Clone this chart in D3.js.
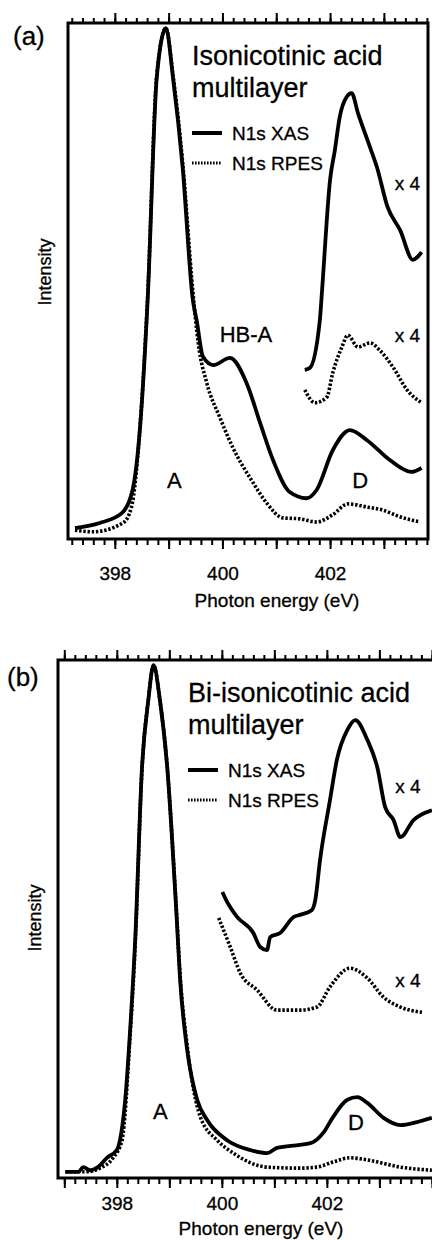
<!DOCTYPE html>
<html>
<head>
<meta charset="utf-8">
<script src="https://cdn.jsdelivr.net/npm/d3@7"></script>
<style>
  body { margin: 0; background: #fff; }
  svg { display: block; font-family: "Liberation Sans", Arial, sans-serif; }
  svg text { stroke: #000; stroke-width: 0.3px; }
</style>
</head>
<body>
<svg id="chart" width="432" height="1240"></svg>
<script>
// ---- data (energy in eV, intensity in % of panel height) ----
// panel (a): isonicotinic acid multilayer
const aXasEnergy = [397.26, 397.72, 398.13, 398.33, 398.46, 398.61, 398.78, 398.95, 399.08, 399.26, 399.45, 399.52, 399.64, 399.83, 400.14, 400.45, 400.70, 400.94, 401.25, 401.56, 401.75, 402.05, 402.37, 402.68, 403.11, 403.51, 403.70];
const aXasValue  = [2.1, 3.1, 5.0, 9.5, 20.5, 46.3, 89.5, 99.0, 89.5, 72.1, 46.3, 42.4, 35.3, 33.7, 35.1, 30.2, 22.5, 15.3, 9.1, 7.9, 9.5, 17.2, 21.1, 19.2, 15.3, 13.0, 13.8];
const aRpesEnergy = [397.26, 397.59, 398.15, 398.31, 398.46, 398.61, 398.78, 398.95, 399.08, 399.26, 399.45, 399.55, 399.71, 399.95, 400.19, 400.57, 400.82, 401.12, 401.44, 401.75, 402.05, 402.33, 402.68, 402.98, 403.30, 403.67];
const aRpesValue  = [1.7, 1.4, 3.1, 6.2, 20.5, 47.0, 90.0, 99.0, 90.0, 73.0, 48.0, 38.0, 30.2, 23.6, 17.8, 10.9, 7.0, 4.1, 3.9, 3.3, 4.7, 6.8, 6.2, 5.6, 4.3, 3.3];
const aXas4Energy = [401.53, 401.62, 401.81, 401.85, 402.00, 402.09, 402.18, 402.31, 402.40, 402.52, 402.74, 402.87, 403.07, 403.30, 403.54, 403.62, 403.70];
const aXas4Value  = [32.8, 33.1, 42.4, 48.0, 69.6, 75.4, 81.8, 85.7, 86.4, 82.5, 76.0, 72.1, 64.3, 59.9, 54.1, 54.6, 55.6];
const aRpes4Energy = [401.53, 401.72, 401.94, 402.05, 402.22, 402.33, 402.52, 402.74, 402.92, 403.17, 403.43, 403.70];
const aRpes4Value  = [28.9, 26.4, 27.5, 32.2, 37.2, 39.5, 37.2, 38.0, 36.6, 33.3, 28.9, 26.4];

// panel (b): bi-isonicotinic acid multilayer
const bXasEnergy = [397.02, 397.27, 397.36, 397.49, 397.64, 397.81, 398.00, 398.06, 398.16, 398.25, 398.35, 398.48, 398.60, 398.70, 398.82, 398.96, 399.13, 399.21, 399.34, 399.53, 399.72, 400.10, 400.54, 400.86, 401.05, 401.49, 401.71, 401.93, 402.12, 402.39, 402.58, 402.77, 403.08, 403.40, 403.72, 404.00];
const bXasValue  = [1.2, 1.2, 2.1, 1.5, 2.1, 3.9, 5.4, 7.3, 15.1, 28.0, 46.0, 79.3, 92.3, 99.0, 92.3, 79.3, 52.0, 37.6, 24.7, 15.1, 11.2, 7.3, 5.4, 4.8, 5.8, 6.4, 6.8, 8.7, 11.8, 15.1, 15.6, 14.5, 11.6, 10.2, 10.8, 11.6];
const bRpesEnergy = [397.02, 397.43, 397.68, 397.93, 398.10, 398.25, 398.35, 398.48, 398.60, 398.70, 398.82, 398.96, 399.13, 399.21, 399.34, 399.59, 399.91, 400.22, 400.86, 401.49, 401.81, 402.12, 402.44, 402.77, 403.40, 404.00];
const bRpesValue  = [1.2, 1.2, 1.9, 3.9, 7.3, 27.0, 45.0, 79.0, 92.3, 99.0, 92.3, 79.3, 52.5, 38.5, 25.5, 11.8, 7.3, 4.8, 2.1, 1.9, 2.1, 3.1, 3.9, 3.5, 2.1, 1.5];
const bXas4Energy = [400.01, 400.10, 400.29, 400.60, 400.73, 400.86, 400.92, 401.11, 401.37, 401.49, 401.71, 401.78, 401.87, 402.06, 402.19, 402.39, 402.54, 402.77, 402.96, 403.11, 403.27, 403.40, 403.65, 404.00];
const bXas4Value  = [55.2, 53.3, 50.4, 47.3, 44.6, 44.0, 46.5, 47.3, 50.4, 50.8, 51.7, 53.7, 61.4, 73.0, 80.7, 86.5, 88.4, 84.6, 79.3, 71.6, 69.1, 65.8, 69.1, 71.0];
const bRpes4Energy = [399.94, 400.16, 400.35, 400.67, 401.05, 401.49, 401.81, 402.06, 402.44, 402.77, 403.08, 403.40, 403.81];
const bRpes4Value  = [50.2, 44.6, 39.6, 36.3, 32.4, 32.4, 33.0, 36.9, 40.5, 38.6, 34.9, 33.0, 32.0];

const tickLabels = [398, 400, 402];
const legendLabels = ["N1s XAS", "N1s RPES"];

const zip = (xs, ys) => xs.map((x, i) => ({ e: x, v: ys[i] }));

const svg = d3.select("#chart");
const font = "'Liberation Sans', Arial, sans-serif";

const panels = [
  {
    tag: "(a)", tagX: 13, tagY: 45,
    title: ["Isonicotinic acid", "multilayer"],
    box: { left: 68, right: 428, top: 23, bottom: 539 },
    domain: [397.13, 403.82],
    lines: [
      { data: zip(aXasEnergy, aXasValue), dotted: false },
      { data: zip(aRpesEnergy, aRpesValue), dotted: true },
      { data: zip(aXas4Energy, aXas4Value), dotted: false },
      { data: zip(aRpes4Energy, aRpes4Value), dotted: true }
    ],
    notes: [
      { t: "HB-A", e: 399.95, v: 38.2 },
      { t: "A", e: 398.97, v: 9.9 },
      { t: "D", e: 402.41, v: 9.9 },
      { t: "x 4", e: 403.20, v: 67.6, small: true },
      { t: "x 4", e: 403.20, v: 38.2, small: true }
    ],
    titleX: 192, tickY: 41,
    xlabX: 277, xlabY: 607,
    ylabX: 51, ylabY: 272
  },
  {
    tag: "(b)", tagX: 7, tagY: 686,
    title: ["Bi-isonicotinic acid", "multilayer"],
    box: { left: 58, right: 434, top: 660, bottom: 1178 },
    domain: [396.88, 404.04],
    lines: [
      { data: zip(bXasEnergy, bXasValue), dotted: false },
      { data: zip(bRpesEnergy, bRpesValue), dotted: true },
      { data: zip(bXas4Energy, bXas4Value), dotted: false },
      { data: zip(bRpes4Energy, bRpes4Value), dotted: true }
    ],
    notes: [
      { t: "A", e: 398.69, v: 11.4 },
      { t: "D", e: 402.40, v: 9.3 },
      { t: "x 4", e: 403.30, v: 74.3, small: true },
      { t: "x 4", e: 403.30, v: 36.9, small: true }
    ],
    titleX: 188, tickY: 32,
    xlabX: 261, xlabY: 1235,
    ylabX: 41, ylabY: 918
  }
];

panels.forEach((p) => {
  const b = p.box;
  const x = d3.scaleLinear().domain(p.domain).range([b.left, b.right]);
  const y = d3.scaleLinear().domain([0, 100]).range([b.bottom, b.top]);

  // clip so lines stay inside the frame
  const clipId = "clip" + p.tag.replace(/\W/g, "");
  svg.append("clipPath").attr("id", clipId)
    .append("rect")
    .attr("x", b.left).attr("y", b.top - 4)
    .attr("width", b.right - b.left).attr("height", b.bottom - b.top + 4);

  // ticks: minor every 0.2 eV, major every 1 eV
  const minor = d3.range(Math.ceil(p.domain[0] * 5) / 5, p.domain[1], 0.2);
  const major = d3.range(Math.ceil(p.domain[0]), p.domain[1], 1);

  svg.append("g")
    .attr("transform", `translate(0,${b.bottom})`)
    .call(d3.axisBottom(x).tickValues(minor).tickSize(6).tickFormat(""))
    .call((g) => g.select(".domain").remove())
    .selectAll("line").attr("stroke", "#000").attr("stroke-width", 2);

  svg.append("g")
    .attr("transform", `translate(0,${b.bottom})`)
    .call(d3.axisBottom(x).tickValues(major).tickSize(10)
      .tickFormat((d) => (tickLabels.includes(d) ? d : "")))
    .call((g) => g.select(".domain").remove())
    .call((g) => g.selectAll("line").attr("stroke", "#000").attr("stroke-width", 2))
    .selectAll("text")
    .attr("y", 0)
    .attr("dy", 0)
    .attr("transform", `translate(0,${p.tickY})`)
    .style("font-family", font)
    .style("font-size", "19px")
    .attr("fill", "#000");

  svg.append("g")
    .attr("transform", `translate(0,${b.top})`)
    .call(d3.axisTop(x).tickValues(minor).tickSize(5).tickFormat(""))
    .call((g) => g.select(".domain").remove())
    .selectAll("line").attr("stroke", "#000").attr("stroke-width", 2);

  svg.append("g")
    .attr("transform", `translate(0,${b.top})`)
    .call(d3.axisTop(x).tickValues(major).tickSize(10).tickFormat(""))
    .call((g) => g.select(".domain").remove())
    .selectAll("line").attr("stroke", "#000").attr("stroke-width", 2);

  // frame
  svg.append("rect")
    .attr("x", b.left).attr("y", b.top)
    .attr("width", b.right - b.left).attr("height", b.bottom - b.top)
    .attr("fill", "none")
    .attr("stroke", "#000")
    .attr("stroke-width", 3);

  const line = d3.line()
    .x((d) => x(d.e))
    .y((d) => y(d.v))
    .curve(d3.curveMonotoneX);

  const plot = svg.append("g").attr("clip-path", `url(#${clipId})`);
  p.lines.forEach((l) => {
    plot.append("path")
      .datum(l.data)
      .attr("fill", "none")
      .attr("stroke", "#000")
      .attr("stroke-width", l.dotted ? 3.6 : 3.8)
      .attr("stroke-dasharray", l.dotted ? "2.4,1.8" : null)
      .attr("stroke-linejoin", "round")
      .attr("d", line);
  });

  // annotations
  p.notes.forEach((n) => {
    svg.append("text")
      .attr("x", x(n.e))
      .attr("y", y(n.v))
      .style("font-family", font)
      .style("font-size", n.small ? "19px" : "22px")
      .text(n.t);
  });

  // title
  p.title.forEach((t, i) => {
    svg.append("text")
      .attr("x", p.titleX)
      .attr("y", b.top + 42 + i * 32)
      .style("font-family", font)
      .style("font-size", "27px")
      .text(t);
  });

  // legend
  legendLabels.forEach((t, i) => {
    const ly = b.top + 110 + i * 30;
    svg.append("line")
      .attr("x1", p.titleX).attr("x2", p.titleX + 30)
      .attr("y1", ly).attr("y2", ly)
      .attr("stroke", "#000")
      .attr("stroke-width", i === 0 ? 4 : 3)
      .attr("stroke-dasharray", i === 0 ? null : "1.6,1.4");
    svg.append("text")
      .attr("x", p.titleX + 40)
      .attr("y", ly + 7)
      .style("font-family", font)
      .style("font-size", "19px")
      .text(t);
  });

  // panel tag
  svg.append("text")
    .attr("x", p.tagX)
    .attr("y", p.tagY)
    .style("font-family", font)
    .style("font-size", "26px")
    .text(p.tag);

  // axis titles
  svg.append("text")
    .attr("x", p.xlabX)
    .attr("y", p.xlabY)
    .attr("text-anchor", "middle")
    .style("font-family", font)
    .style("font-size", "19px")
    .text("Photon energy (eV)");

  svg.append("text")
    .attr("transform", `translate(${p.ylabX},${p.ylabY}) rotate(-90)`)
    .attr("text-anchor", "middle")
    .style("font-family", font)
    .style("font-size", "18px")
    .text("Intensity");
});
</script>
</body>
</html>
